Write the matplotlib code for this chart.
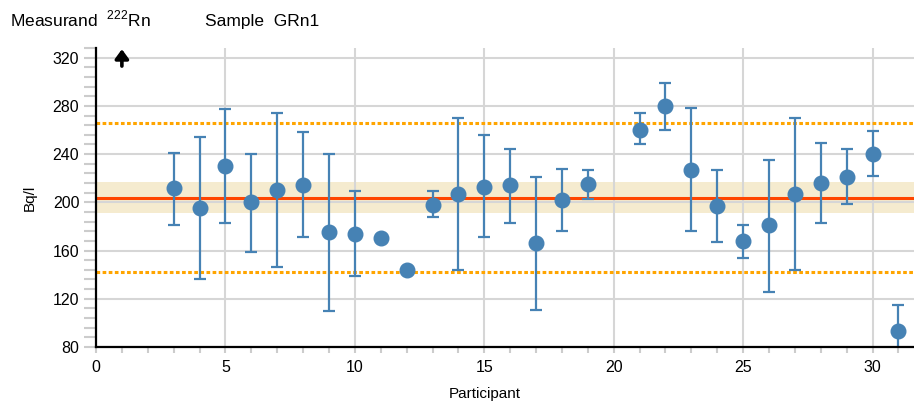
import numpy as np
import matplotlib.pyplot as plt
from matplotlib.ticker import MultipleLocator

plt.rcParams['font.family'] = ['Liberation Sans', 'DejaVu Sans']
plt.rcParams['mathtext.fontset'] = 'custom'
plt.rcParams['mathtext.rm'] = 'Liberation Sans'

# Resultados dos participantes (Bq/l)
participantes = [3, 4, 5, 6, 7, 8, 9, 10, 11, 12, 13, 14, 15, 16, 17, 18, 19,
                 21, 22, 23, 24, 25, 26, 27, 28, 29, 30, 31]
valores = [212, 195, 230, 200, 210, 214, 175, 174, 170, 144, 198, 207, 213, 214,
           166, 202, 215, 260, 280, 227, 197, 168, 181, 207, 216, 221, 240, 93]
limite_inf = [181, 136, 183, 159, 146, 171, 110, 139, np.nan, np.nan, 188, 144, 171,
              183, 111, 176, 203, 248, 260, 176, 167, 154, 126, 144, 183, 199, 222, 71]
limite_sup = [241, 254, 277, 240, 274, 258, 240, 209, np.nan, np.nan, 209, 270, 256,
              244, 221, 228, 227, 274, 299, 278, 227, 181, 235, 270, 249, 244, 259, 115]
fora_acima = [1]  # participante acima da escala

valor_ref = 204
incerteza_ref = (191, 217)
limites = (142, 266)

x = np.array(participantes, dtype=float)
y = np.array(valores, dtype=float)
lo = np.array(limite_inf, dtype=float)
hi = np.array(limite_sup, dtype=float)
tem_erro = ~np.isnan(lo)

fig = plt.figure(figsize=(9.14, 4.03), dpi=100)
ax = fig.add_axes([96/914, 1 - 347/403, 1 - 96/914, (347 - 48)/403])

ax.axhspan(*incerteza_ref, color='#f5ebcf', zorder=0, lw=0)
ax.grid(True, color='#d6d6d6', lw=1.5)
ax.set_axisbelow(True)

ax.axhline(valor_ref, color='#ff4500', lw=2.2, zorder=2)
for lim in limites:
    ax.axhline(lim, color='#ffa500', lw=2.2, ls=(0, (1.2, 0.8)), zorder=2)

ax.errorbar(x[tem_erro], y[tem_erro],
            yerr=[y[tem_erro] - lo[tem_erro], hi[tem_erro] - y[tem_erro]],
            fmt='none', ecolor='#4682b4', elinewidth=1.6, capsize=4.5, capthick=1.6,
            zorder=3)
ax.plot(x, y, 'o', color='#4682b4', ms=10.5, zorder=4, clip_on=True)

for p in fora_acima:
    ax.annotate('', xy=(p, 327), xytext=(p, 313),
                arrowprops=dict(arrowstyle='-|>,head_width=0.4,head_length=0.55',
                                color='black', lw=2.6, shrinkA=0, shrinkB=0),
                zorder=5)

ax.set_xlim(0, 31.6)
ax.set_ylim(80, 328)
ax.xaxis.set_major_locator(MultipleLocator(5))
ax.xaxis.set_minor_locator(MultipleLocator(1))
ax.set_yticks(np.arange(80, 321, 40))
ax.yaxis.set_minor_locator(MultipleLocator(8))

for lado in ['top', 'right']:
    ax.spines[lado].set_visible(False)
for lado in ['left', 'bottom']:
    ax.spines[lado].set_linewidth(1.6)
    ax.spines[lado].set_zorder(6)

ax.tick_params(axis='y', which='both', length=9, width=1.5, color='#cccccc',
               labelsize=11.5, pad=3)
ax.tick_params(axis='x', which='both', length=4, width=1.5, color='#cccccc',
               labelsize=11.5, pad=5)

ax.set_xlabel('Participant', fontsize=11, labelpad=8)
ax.xaxis.set_label_coords(15 / 31.6, -0.135)
ax.set_ylabel('Bq/l', fontsize=11)
ax.yaxis.set_label_coords(-0.072, 0.5)

fig.text(10/914, 1 - 26/403, r'Measurand  $^{222}$Rn', fontsize=12.5, va='baseline')
fig.text(205/914, 1 - 26/403, 'Sample  GRn1', fontsize=12.5, va='baseline')

fig.savefig('out.png', dpi=100)
